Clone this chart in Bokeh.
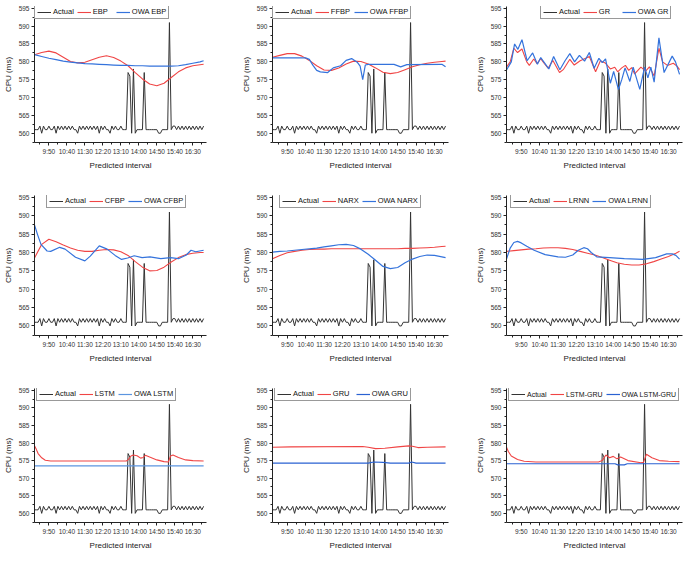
from bokeh.plotting import figure
from bokeh.layouts import column, row
from bokeh.models import FixedTicker, Legend, LegendItem, Range1d
from bokeh.embed import file_html
from bokeh.resources import INLINE


def hm(s):
    h, m = s.split(":")
    return int(h) * 60 + int(m)


# ---------------- data ----------------
TICK_LABELS = ["9:50", "10:40", "11:30", "12:20", "13:10", "14:00", "14:50", "15:40", "16:30"]
Y_TICKS = [560, 565, 570, 575, 580, 585, 590, 595]

ACTUAL_START = "9:10"
ACTUAL_STEP = 5
ACTUAL = [
    561, 561, 561, 562, 560, 562, 561, 561, 562, 561,             # 9:10-9:55
    561, 562, 560, 562, 561, 562, 561, 562, 561, 562, 561, 562,   # 10
    561, 561, 560, 562, 561, 562, 561, 562, 561, 562, 561, 562,   # 11
    561, 562, 560, 562, 561, 562, 561, 561, 560, 562, 561, 562,   # 12
    561, 561, 562, 561, 561, 561, 577, 576, 560, 578, 560, 561,   # 13
    561, 561, 561, 577, 561, 561, 561, 561, 561, 561, 561, 560,   # 14
    560, 561, 561, 561, 561, 591, 561, 562, 562, 561, 562, 561,   # 15
    562, 561, 562, 561, 562, 561, 562, 561, 562, 561, 562, 561,   # 16
    562,                                                          # 17:00
]

GRID20 = ["9:10", "9:30", "9:50", "10:10", "10:30", "10:50", "11:10", "11:30", "11:50",
          "12:10", "12:30", "12:50", "13:10", "13:30", "13:50", "14:10", "14:30", "14:50",
          "15:10", "15:30", "15:50", "16:10", "16:30", "16:50", "17:00"]

EBP = [582.0, 582.6, 583.0, 582.5, 581.3, 580.1, 579.7, 579.9, 580.6, 581.3, 581.7, 581.2, 580.2,
       578.9, 577.0, 575.2, 573.8, 573.3, 574.0, 575.6, 577.2, 578.3, 578.9, 579.2, 579.3]
OWA_EBP = [582.0, 581.5, 581.0, 580.6, 580.2, 579.9, 579.7, 579.5, 579.4, 579.3, 579.2, 579.1, 579.0,
           579.0, 578.9, 578.9, 578.8, 578.8, 578.8, 578.8, 578.9, 579.2, 579.6, 580.0, 580.3]

FFBP = [581.3, 581.8, 582.3, 582.3, 581.6, 580.4, 578.9, 577.7, 577.6, 578.3, 579.4, 580.2, 580.1,
        579.4, 578.3, 577.1, 576.7, 577.0, 577.8, 578.6, 579.2, 579.6, 579.9, 580.1, 580.2]
OWA_FFBP_T = ["9:10", "10:40", "10:50", "11:00", "11:10", "11:20", "11:40", "11:55", "12:15", "12:30",
              "12:45", "13:00", "13:08", "13:15", "13:22", "13:30", "14:40", "14:58", "15:15", "16:50", "17:00"]
OWA_FFBP = [581.1, 581.1, 580.7, 579.0, 577.6, 577.2, 577.0, 578.3, 578.9, 580.4,
            580.9, 579.9, 578.8, 575.0, 579.1, 579.3, 579.3, 578.6, 579.2, 579.3, 578.6]

GR_T = ["9:10", "9:20", "9:30", "9:40", "9:52", "10:05", "10:12", "10:24", "10:33", "10:43", "10:52",
        "11:03", "11:16", "11:34", "11:45", "12:02", "12:14", "12:30", "12:45", "12:55", "13:12", "13:25",
        "13:38", "13:52", "14:04", "14:12", "14:23", "14:33", "14:42", "14:50", "14:58", "15:15", "15:28",
        "15:38", "15:51", "16:04", "16:14", "16:27", "16:43", "16:53", "17:00"]
GR = [578.5, 580.0, 583.8, 582.6, 583.6, 580.0, 579.0, 580.8, 579.5, 580.9, 579.6,
      578.2, 580.4, 577.0, 577.9, 580.7, 579.1, 580.3, 581.0, 581.5, 577.2, 580.3,
      579.7, 578.0, 578.5, 577.2, 578.3, 579.0, 577.6, 578.4, 576.6, 578.5, 577.4,
      578.6, 576.0, 583.8, 580.0, 579.0, 579.6, 578.8, 577.8]
OWA_GR_T = ["9:10", "9:23", "9:32", "9:41", "9:52", "10:06", "10:21", "10:34", "10:43", "11:05", "11:18",
            "11:35", "11:49", "12:02", "12:15", "12:28", "12:42", "12:55", "13:08", "13:21", "13:30",
            "13:39", "13:52", "14:01", "14:14", "14:23", "14:32", "14:45", "14:54", "15:12", "15:25",
            "15:34", "15:42", "15:51", "16:04", "16:18", "16:40", "16:49", "17:00"]
OWA_GR = [577.7, 580.0, 585.0, 583.5, 586.2, 580.3, 582.5, 579.3, 581.2, 578.0, 581.5,
          577.8, 580.3, 582.3, 580.0, 581.8, 580.2, 582.6, 578.2, 581.0, 579.8,
          580.8, 574.0, 577.3, 572.2, 575.0, 578.3, 574.5, 578.5, 572.3, 578.5,
          575.5, 578.5, 574.3, 586.7, 577.0, 581.6, 580.0, 576.5]

CFBP = [578.5, 582.2, 583.6, 582.9, 582.0, 581.2, 580.6, 580.3, 580.3, 580.6, 580.8, 580.7, 580.2,
        579.2, 577.5, 576.0, 575.0, 575.1, 576.0, 577.4, 578.6, 579.4, 579.8, 580.0, 580.0]
OWA_CFBP_T = ["9:10", "9:18", "9:28", "9:45", "9:55", "10:20", "10:35", "11:04", "11:30", "11:45", "12:10",
              "12:32", "12:54", "13:12", "13:29", "13:47", "14:09", "14:31", "15:01", "15:28", "15:50",
              "16:12", "16:25", "16:38", "17:00"]
OWA_CFBP = [587.5, 585.0, 582.2, 580.4, 580.3, 581.4, 580.9, 578.7, 577.7, 579.0, 581.8,
            580.9, 579.2, 578.1, 578.5, 579.1, 578.6, 578.8, 578.3, 578.6, 578.3,
            579.3, 580.6, 580.2, 580.6]

NARX = [578.3, 579.2, 579.9, 580.3, 580.6, 580.8, 580.9, 580.9, 581.0, 581.0, 581.0, 581.0, 581.0,
        581.0, 581.0, 581.0, 581.0, 581.0, 581.1, 581.1, 581.2, 581.3, 581.4, 581.6, 581.7]
OWA_NARX = [580.1, 580.3, 580.4, 580.6, 580.8, 581.0, 581.2, 581.5, 581.8, 582.1, 582.2, 581.9, 580.9,
            579.5, 577.9, 576.2, 575.6, 575.9, 577.2, 578.2, 578.9, 579.3, 579.2, 578.8, 578.6]

LRNN = [580.3, 580.5, 580.7, 580.9, 581.0, 581.2, 581.3, 581.3, 581.1, 580.8, 580.3, 579.8, 579.3,
        578.6, 577.9, 577.2, 576.8, 576.6, 576.6, 576.9, 577.5, 578.2, 578.9, 579.8, 580.3]
OWA_LRNN_T = ["9:10", "9:20", "9:30", "9:40", "9:50", "10:05", "10:25", "10:55", "11:30", "11:50", "12:10",
              "12:25", "12:40", "12:50", "13:00", "13:15", "13:50", "14:30", "15:20", "15:55", "16:25",
              "16:40", "16:50", "17:00"]
OWA_LRNN = [578.2, 581.2, 582.7, 583.0, 582.6, 581.7, 580.6, 579.4, 578.8, 578.7, 579.3,
            580.6, 581.3, 581.0, 580.0, 578.8, 578.6, 578.3, 578.1, 578.6, 579.6,
            579.6, 579.2, 578.2]

LSTM_T = ["9:10", "9:15", "9:20", "9:30", "9:40", "9:55", "13:25", "13:30", "13:38", "13:45", "13:55",
          "14:05", "14:12", "14:18", "14:30", "14:50", "15:10", "15:22", "15:28", "15:35", "15:50",
          "16:10", "16:30", "17:00"]
LSTM = [579.2, 578.2, 577.0, 575.8, 575.1, 574.9, 574.9, 575.2, 576.3, 576.6, 576.4,
        575.7, 575.9, 576.5, 576.0, 575.2, 574.7, 574.6, 576.3, 576.6, 575.9,
        575.2, 575.0, 574.9]
OWA_LSTM_T = ["9:10", "17:00"]
OWA_LSTM = [573.5, 573.5]

GRU_T = ["9:10", "10:00", "13:15", "13:30", "13:50", "14:15", "14:50", "15:20", "15:30", "15:45", "16:10", "17:00"]
GRU = [578.8, 578.9, 579.0, 578.8, 578.4, 578.5, 578.9, 579.2, 579.1, 578.7, 578.8, 578.9]
OWA_GRU_T = ["9:10", "13:30", "13:45", "14:10", "14:30", "15:20", "15:28", "15:40", "17:00"]
OWA_GRU = [574.3, 574.3, 574.6, 574.5, 574.3, 574.3, 574.6, 574.3, 574.3]

LSTMGRU_T = ["9:10", "9:15", "9:23", "9:40", "9:58", "10:30", "13:20", "13:30", "13:40", "13:50", "14:00",
             "14:10", "14:20", "14:40", "15:15", "15:22", "15:30", "15:45", "16:05", "16:30", "17:00"]
LSTMGRU = [578.8, 577.6, 576.3, 575.3, 574.8, 574.6, 574.6, 575.0, 576.6, 575.8, 576.2,
           575.5, 576.0, 575.0, 574.4, 574.5, 576.8, 575.8, 575.0, 574.8, 574.7]
OWA_LSTMGRU_T = ["9:10", "14:05", "14:12", "14:30", "14:38", "17:00"]
OWA_LSTMGRU = [574.1, 574.1, 573.8, 573.8, 574.1, 574.1]

# ---------------- styling / layout ----------------
FONT = "Liberation Sans"
C_ACT = "#333333"
C_RED = "#f04545"
C_BLUE = "#3473dc"

# (frame_width, border_left, border_right)
COLS = [(172, 30, 32), (176, 27, 24), (176, 30, 2)]
# (frame_height, border_top, border_bottom)
ROWS = [(136, 6, 44), (140, 9, 48), (134, 5, 25)]

PANELS = [
    ("EBP", GRID20, EBP, GRID20, OWA_EBP, 0, "7.5px", C_BLUE),
    ("FFBP", GRID20, FFBP, OWA_FFBP_T, OWA_FFBP, 0, "7.5px", C_BLUE),
    ("GR", GR_T, GR, OWA_GR_T, OWA_GR, 34, "7.5px", C_BLUE),
    ("CFBP", GRID20, CFBP, OWA_CFBP_T, OWA_CFBP, 12, "7.5px", C_BLUE),
    ("NARX", GRID20, NARX, GRID20, OWA_NARX, 7, "7.5px", C_BLUE),
    ("LRNN", GRID20, LRNN, OWA_LRNN_T, OWA_LRNN, 4, "7.5px", C_BLUE),
    ("LSTM", LSTM_T, LSTM, OWA_LSTM_T, OWA_LSTM, 2, "7.5px", "#5b95e0"),
    ("GRU", GRU_T, GRU, OWA_GRU_T, OWA_GRU, 2, "7.5px", "#2a62d2"),
    ("LSTM-GRU", LSTMGRU_T, LSTMGRU, OWA_LSTMGRU_T, OWA_LSTMGRU, 2, "7px", "#2a62d2"),
]

act_x = [hm(ACTUAL_START) + ACTUAL_STEP * i for i in range(len(ACTUAL))]
x_major = [hm(t) for t in TICK_LABELS]
x_minor = [x_major[0] - 25] + [v + 25 for v in x_major]
y_minor = [Y_TICKS[0] - 2.5] + [v + 2.5 for v in Y_TICKS[:-1]]


def make_panel(idx, spec):
    name, mt, mv, ot, ov, leg_dx, leg_font, c_owa = spec
    fw, bl, br = COLS[idx % 3]
    fh, bt, bb = ROWS[idx // 3]
    p = figure(frame_width=fw, frame_height=fh,
               min_border_left=bl, min_border_right=br,
               min_border_top=bt, min_border_bottom=bb,
               x_range=Range1d(550, 1028), y_range=Range1d(557.4, 595.5),
               output_backend="svg", toolbar_location=None, tools="")
    p.outline_line_color = None
    p.xgrid.visible = False
    p.ygrid.visible = False
    p.background_fill_color = "white"
    p.border_fill_color = "white"

    r_act = p.line(act_x, ACTUAL, line_color=C_ACT, line_width=1.0)
    r_mod = p.line([hm(t) for t in mt], mv, line_color=C_RED, line_width=1.1)
    r_owa = p.line([hm(t) for t in ot], ov, line_color=c_owa, line_width=1.2)

    p.xaxis.ticker = FixedTicker(ticks=x_major, minor_ticks=x_minor)
    p.xaxis.major_label_overrides = {v: t for v, t in zip(x_major, TICK_LABELS)}
    p.yaxis.ticker = FixedTicker(ticks=Y_TICKS, minor_ticks=y_minor)
    p.xaxis.axis_label = "Predicted interval"
    p.yaxis.axis_label = "CPU (ms)"
    for ax in (p.xaxis[0], p.yaxis[0]):
        ax.axis_line_color = "#222222"
        ax.major_tick_line_color = "#222222"
        ax.minor_tick_line_color = "#222222"
        ax.major_tick_out = 3
        ax.major_tick_in = 0
        ax.minor_tick_out = 2
        ax.minor_tick_in = 0
        ax.major_label_text_font = FONT
        ax.major_label_text_font_size = "6.5px"
        ax.major_label_text_color = "#333333"
        ax.major_label_standoff = 2
        ax.axis_label_text_font = FONT
        ax.axis_label_text_font_size = "8px"
        ax.axis_label_text_font_style = "normal"
        ax.axis_label_text_color = "#222222"
        ax.axis_label_standoff = 3

    legend = Legend(items=[LegendItem(label="Actual", renderers=[r_act]),
                           LegendItem(label=name, renderers=[r_mod]),
                           LegendItem(label="OWA " + name, renderers=[r_owa])],
                    orientation="horizontal", location=(leg_dx, fh - 13))
    legend.label_text_font = FONT
    legend.label_text_font_size = leg_font
    legend.label_text_color = "#111111"
    legend.glyph_width = 14
    legend.glyph_height = 8
    legend.label_height = 8
    legend.label_standoff = 2
    legend.spacing = 3
    legend.padding = 2
    legend.margin = 0
    legend.border_line_color = "#333333"
    legend.border_line_width = 1
    legend.background_fill_color = "white"
    legend.background_fill_alpha = 1.0
    p.add_layout(legend)
    return p


figs = [make_panel(i, s) for i, s in enumerate(PANELS)]
layout = column(row(*figs[0:3]), row(*figs[3:6]), row(*figs[6:9]))

open("out.html", "w").write(file_html(layout, INLINE))
